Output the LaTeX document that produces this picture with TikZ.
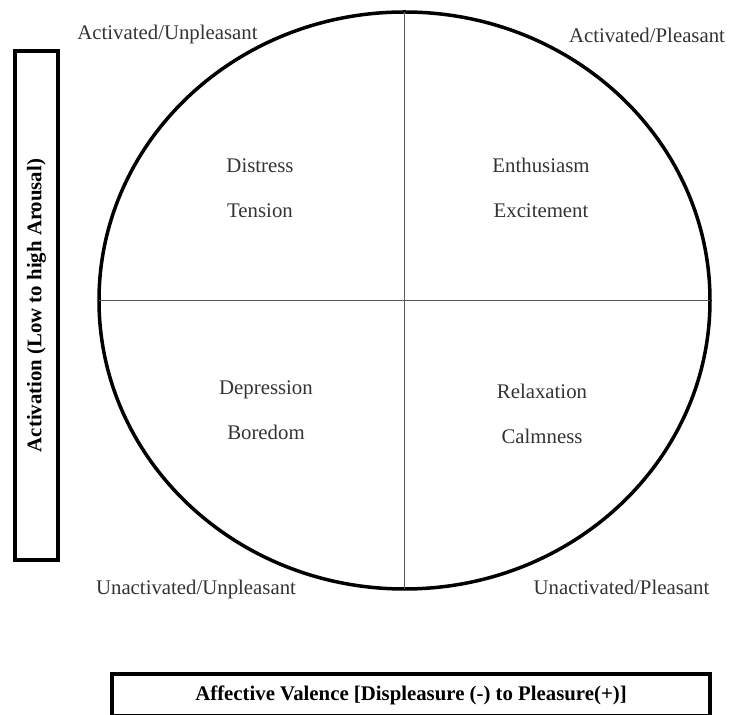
\documentclass[tikz,border=0pt]{standalone}
\usepackage{fontspec}
\setmainfont{Liberation Serif}
\usetikzlibrary{shapes.geometric}

\begin{document}
\begin{tikzpicture}[x=0.5pt,y=-0.5pt,
    word/.style={text=black!80,font=\fontsize{10.4}{12}\selectfont,anchor=base,inner sep=0pt},
    axisbox/.style={draw,line width=2pt,inner sep=0pt,font=\fontsize{10.4}{12}\selectfont\bfseries},
    axisline/.style={draw=black!65,line width=0.8pt}]
  \useasboundingbox (0,0) rectangle (730,715);
  % 情感环
  \node[draw,ellipse,line width=1.75pt,minimum width=305.5pt,minimum height=288.5pt,inner sep=0pt,outer sep=0pt] (wheel) at (404.5,300.5) {};
  % 坐标轴
  \draw[axisline] (wheel.west) -- (wheel.east);
  \draw[axisline] (wheel.north) -- (wheel.south);
  % 四个象限
  \node[word] (distress) at (260,173) {Distress};
  \node[word] (tension) at (260,218) {Tension};
  \node[word] (enthusiasm) at (541,173) {Enthusiasm};
  \node[word] (excitement) at (541,218) {Excitement};
  \node[word] (depression) at (266,395) {Depression};
  \node[word] (boredom) at (266,440) {Boredom};
  \node[word] (relaxation) at (542,399) {Relaxation};
  \node[word] (calmness) at (542,444) {Calmness};
  % 四角标签
  \node[word] (actunpl) at (167.5,40) {Activated/Unpleasant};
  \node[word] (actpl) at (647,43) {Activated/Pleasant};
  \node[word] (unactunpl) at (196,595) {Unactivated/Unpleasant};
  \node[word] (unactpl) at (621.5,595) {Unactivated/Pleasant};
  % 坐标轴说明框
  \node[axisbox,rotate=90,minimum width=254.5pt,minimum height=21.5pt] (activation) at (36.5,305.5) {Activation (Low to high Arousal)};
  \node[axisbox,minimum width=299pt,minimum height=21pt] (valence) at (411,695) {Affective Valence [Displeasure (-) to Pleasure(+)]};
\end{tikzpicture}
\end{document}
